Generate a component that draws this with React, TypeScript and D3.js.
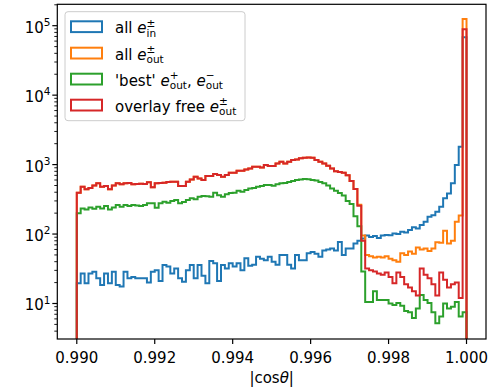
import React from "react";
import * as d3 from "d3";

// Histogram of |cos θ| in 100 bins between 0.990 and 1.000
const binLow = 0.99;
const binWidth = 0.0001;
const binCount = 100;

const allIn = [
  19.5, 27, 19.5, 27, 28.7, 23, 18.5, 27, 19.5, 28.7,
  18.5, 17.5, 28.7, 23, 24, 23, 23, 23, 20, 28.7,
  30, 21, 35.8, 34, 27, 32, 23, 20.6, 30, 35.8,
  23, 35.8, 25, 19.5, 41, 38, 21, 35.8, 32, 38,
  34, 38, 30, 44.8, 35, 36, 47, 44, 42, 47,
  40, 36, 50, 50, 36, 32, 50, 42, 42, 53,
  55, 52, 47, 58, 60, 62, 58, 77, 50, 62,
  62, 73, 80, 86, 95, 91, 94, 88, 95, 97,
  96, 102, 100, 108, 105, 114, 125, 120, 135, 150,
  177, 187, 209, 247, 327, 385, 537, 984, 1800, 68000,
];

const allOut = [
  393, 479, 440, 460, 500, 537, 480, 490, 443, 500,
  537, 520, 537, 545, 520, 525, 530, 525, 555, 470,
  537, 545, 550, 560, 565, 565, 490, 490, 565, 612,
  668, 632, 599, 685, 685, 730, 707, 668, 707, 760,
  760, 815, 815, 850, 880, 930, 930, 910, 985, 955,
  955, 1040, 1095, 1040, 1100, 1160, 1180, 1230, 1250, 1270,
  1250, 1160, 1100, 1040, 960, 880, 800, 780, 760, 700,
  580, 445, 265, 95, 50, 48, 46, 47, 46, 48,
  44, 42, 40, 53, 50, 56, 52, 64, 60, 62,
  57, 62, 76, 75, 112, 73, 80, 150, 185, 125000,
];

const bestOut = [
  199, 234, 226, 242, 231, 247, 234, 253, 226, 242,
  262, 247, 262, 253, 262, 258, 253, 262, 277, 277,
  240, 277, 292, 283, 300, 308, 277, 290, 308, 327,
  318, 345, 354, 350, 345, 393, 363, 345, 375, 390,
  393, 420, 406, 430, 454, 460, 479, 490, 507, 507,
  495, 520, 540, 545, 560, 580, 600, 610, 620, 615,
  600, 590, 560, 540, 500, 454, 420, 390, 360, 300,
  270, 180, 130, 29, 10.5, 10.5, 15, 11.2, 11.2, 11.2,
  10, 9.5, 10.2, 9.3, 7.8, 7.5, 6.2, 8.5, 13.2, 11.2,
  10.2, 7.5, 5.2, 6.5, 10, 8.5, 9, 10.5, 6.5, 7.5,
];

const overlayFree = [
  393, 479, 440, 460, 500, 537, 480, 490, 443, 500,
  537, 520, 537, 545, 520, 525, 530, 525, 555, 470,
  537, 545, 550, 560, 565, 565, 490, 490, 565, 612,
  668, 632, 599, 685, 685, 730, 707, 668, 707, 760,
  760, 815, 815, 850, 880, 930, 930, 910, 985, 955,
  955, 1040, 1095, 1040, 1100, 1160, 1180, 1230, 1250, 1270,
  1250, 1160, 1100, 1040, 960, 880, 800, 780, 760, 700,
  580, 445, 255, 80, 32, 30, 29, 27, 26, 28,
  24, 19.5, 28, 24, 19, 17, 15, 13, 32, 26,
  23, 19, 13, 28, 22, 17, 19, 20, 12, 89000,
];

const xTicks = [0.99, 0.992, 0.994, 0.996, 0.998, 1.0];
const yMajorExponents = [1, 2, 3, 4, 5];

const colors = {
  blue: "#1f77b4",
  orange: "#ff7f0e",
  green: "#2ca02c",
  red: "#d62728",
};

const W = 497;
const H = 392;
const left = 57.3;
const right = 486;
const top = 4.3;
const bottom = 339;
const FONT = "'DejaVu Sans', sans-serif";

const x = d3.scaleLinear().domain([0.9895, 1.0005]).range([left, right]);
const y = d3
  .scaleLog()
  .domain([Math.pow(10, 0.4888), Math.pow(10, 5.308)])
  .range([bottom, top]);

const edges = d3.range(binCount + 1).map((i) => binLow + i * binWidth);

function stepPath(values: number[]): string {
  const below = bottom + 20;
  const pts: [number, number][] = [[x(edges[0]), below]];
  values.forEach((v, i) => {
    pts.push([x(edges[i]), y(v)]);
    pts.push([x(edges[i + 1]), y(v)]);
  });
  pts.push([x(edges[binCount]), below]);
  return d3.line()(pts) || "";
}

const series = [
  { values: allIn, color: colors.blue },
  { values: allOut, color: colors.orange },
  { values: bestOut, color: colors.green },
  { values: overlayFree, color: colors.red },
];

const minorTicks: number[] = [];
for (let e = 0; e <= 5; e++) {
  for (let m = 2; m <= 9; m++) {
    const v = m * Math.pow(10, e);
    const [d0, d1] = y.domain();
    if (v >= d0 && v <= d1) minorTicks.push(v);
  }
}

const SUP = 10.5;
const SUP_W = 8.8;

function Legend() {
  const lx = 65;
  const ly = 11.7;
  const lw = 180;
  const lh = 109;
  const centers = [26.7, 53.1, 79.1, 105.1];
  const textX = 115;
  const entries = [
    {
      color: colors.blue,
      label: (
        <>
          all <tspan fontStyle="italic">e</tspan>
          <tspan fontSize={SUP} dy={-6.7}>±</tspan>
          <tspan fontSize={SUP} dx={-SUP_W} dy={10}>in</tspan>
        </>
      ),
    },
    {
      color: colors.orange,
      label: (
        <>
          all <tspan fontStyle="italic">e</tspan>
          <tspan fontSize={SUP} dy={-6.7}>±</tspan>
          <tspan fontSize={SUP} dx={-SUP_W} dy={10}>out</tspan>
        </>
      ),
    },
    {
      color: colors.green,
      label: (
        <>
          'best' <tspan fontStyle="italic">e</tspan>
          <tspan fontSize={SUP} dy={-6.7}>+</tspan>
          <tspan fontSize={SUP} dx={-SUP_W} dy={10}>out</tspan>
          <tspan dy={-3.3}>, </tspan>
          <tspan fontStyle="italic">e</tspan>
          <tspan fontSize={SUP} dy={-6.7}>−</tspan>
          <tspan fontSize={SUP} dx={-SUP_W} dy={10}>out</tspan>
        </>
      ),
    },
    {
      color: colors.red,
      label: (
        <>
          overlay free <tspan fontStyle="italic">e</tspan>
          <tspan fontSize={SUP} dy={-6.7}>±</tspan>
          <tspan fontSize={SUP} dx={-SUP_W} dy={10}>out</tspan>
        </>
      ),
    },
  ];
  return (
    <g>
      <rect
        x={lx}
        y={ly}
        width={lw}
        height={lh}
        rx={3}
        ry={3}
        fill="white"
        fillOpacity={0.8}
        stroke="#cccccc"
        strokeWidth={1}
      />
      {entries.map((e, i) => (
        <g key={i}>
          <rect
            x={71}
            y={centers[i] - 5.4}
            width={31}
            height={10.8}
            fill="none"
            stroke={e.color}
            strokeWidth={2}
          />
          <text x={textX} y={centers[i] + 6.7} fontSize={15} fontFamily={FONT} fill="#000">
            {e.label}
          </text>
        </g>
      ))}
    </g>
  );
}

export default function App() {
  return (
    <svg
      width={W}
      height={H}
      viewBox={`0 0 ${W} ${H}`}
      style={{ position: "absolute", left: 0, top: 0, background: "white" }}
    >
      <defs>
        <clipPath id="plot-area">
          <rect x={left} y={top} width={right - left} height={bottom - top} />
        </clipPath>
      </defs>
      <rect x={0} y={0} width={W} height={H} fill="white" />

      <g clipPath="url(#plot-area)">
        {series.map((s, i) => (
          <path
            key={i}
            d={stepPath(s.values)}
            fill="none"
            stroke={s.color}
            strokeWidth={2}
            strokeLinejoin="miter"
          />
        ))}
      </g>

      {/* frame */}
      <rect
        x={left}
        y={top}
        width={right - left}
        height={bottom - top}
        fill="none"
        stroke="#000"
        strokeWidth={1.2}
      />

      {/* x axis */}
      {xTicks.map((t) => (
        <g key={t}>
          <line x1={x(t)} x2={x(t)} y1={bottom} y2={bottom + 5} stroke="#000" strokeWidth={1.2} />
          <text
            x={x(t)}
            y={363.3}
            textAnchor="middle"
            fontSize={15}
            fontFamily={FONT}
            fill="#000"
          >
            {d3.format(".3f")(t)}
          </text>
        </g>
      ))}
      <text
        x={(left + right) / 2}
        y={383}
        textAnchor="middle"
        fontSize={15}
        fontFamily={FONT}
        fill="#000"
      >
        |cos<tspan fontStyle="italic">θ</tspan>|
      </text>

      {/* y axis */}
      {minorTicks.map((v) => (
        <line key={v} x1={left - 3} x2={left} y1={y(v)} y2={y(v)} stroke="#000" strokeWidth={0.9} />
      ))}
      {yMajorExponents.map((e) => {
        const v = Math.pow(10, e);
        return (
          <g key={e}>
            <line x1={left - 5} x2={left} y1={y(v)} y2={y(v)} stroke="#000" strokeWidth={1.2} />
            <text
              x={50.5}
              y={y(v) + 7}
              textAnchor="end"
              fontSize={15}
              fontFamily={FONT}
              fill="#000"
            >
              10<tspan fontSize={SUP} dy={-6.7}>{e}</tspan>
            </text>
          </g>
        );
      })}

      <Legend />
    </svg>
  );
}
